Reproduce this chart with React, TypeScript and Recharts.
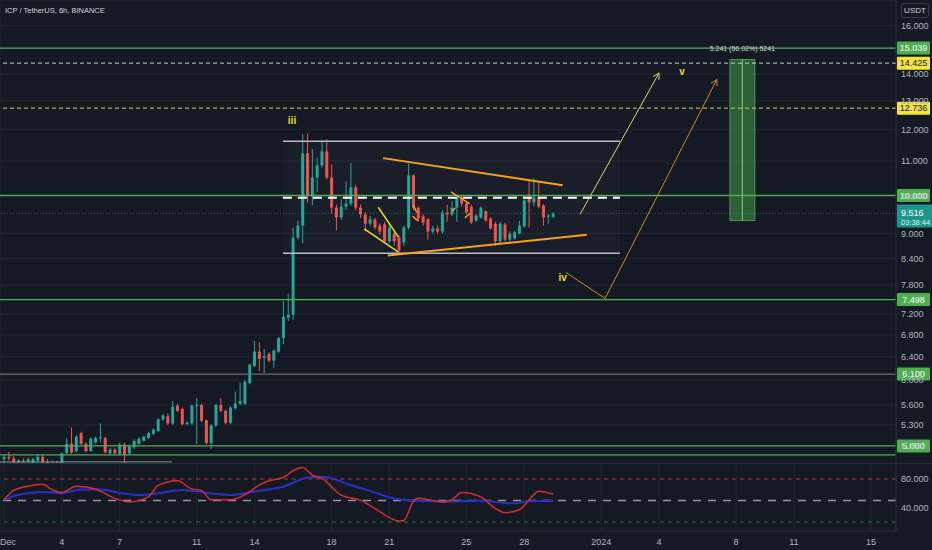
import React from "react";
import {
  Bar,
  CartesianGrid,
  ComposedChart,
  Line,
  ReferenceArea,
  ReferenceDot,
  ReferenceLine,
  XAxis,
  YAxis,
} from "recharts";

const BG = "#151924";
const GRID = "#21252f";
const AXIS_TEXT = "#b2b5be";
const UP = "#26a69a";
const DOWN = "#ef5350";
const LEVEL = "#4caf50";
const FONT = "'Liberation Sans', Arial, sans-serif";

// ICP/USDT 6h candles, index 0 = Dec 1 00:00
const opens = [
  4.82, 4.85, 4.83, 4.78, 4.8, 4.79, 4.77, 4.8, 4.85, 4.78, 4.75, 4.77, 4.76, 4.9, 5.03, 4.93, 5.18, 5.03, 4.93, 5.05,
  5.11, 5.11, 4.9, 4.95, 4.89, 5.02, 4.9, 4.98, 5.03, 5.07, 5.11, 5.17, 5.21, 5.38, 5.43, 5.32, 5.59, 5.54, 5.31, 5.32,
  5.59, 5.6, 5.37, 5.04, 5.29, 5.6, 5.51, 5.33, 5.55, 5.62, 5.62, 5.95, 6.24, 6.49, 6.38, 6.45, 6.33, 6.49, 6.74, 7.13,
  7.19, 8.9, 9.2, 11.24, 9.98, 10.51, 10.87, 11.3, 10.51, 9.67, 9.41, 9.7, 9.78, 10.23, 9.67, 9.49, 9.25, 9.36, 9.2, 9.23,
  8.81, 9.0, 8.9, 8.78, 9.15, 10.57, 9.67, 9.44, 9.36, 9.05, 9.13, 9.05, 9.54, 9.49, 9.67, 9.95, 9.78, 9.7, 9.33, 9.41,
  9.57, 9.38, 9.25, 8.81, 9.23, 8.85, 8.88, 9.0, 9.18, 9.95, 9.81, 9.95, 9.73, 9.44, 9.43,
];
const highs = [
  4.88, 4.92, 4.86, 4.82, 4.83, 4.84, 4.84, 4.88, 4.88, 4.82, 4.8, 4.8, 4.91, 5.11, 5.26, 5.15, 5.2, 5.05, 5.12, 5.13,
  5.32, 5.13, 4.97, 4.97, 5.04, 5.04, 5.02, 5.09, 5.12, 5.14, 5.2, 5.25, 5.4, 5.46, 5.47, 5.66, 5.62, 5.56, 5.36, 5.61,
  5.71, 5.62, 5.38, 5.31, 5.62, 5.71, 5.53, 5.58, 5.81, 5.95, 6.0, 6.28, 6.69, 6.66, 6.54, 6.48, 6.53, 6.76, 7.47, 7.62,
  9.15, 9.33, 11.85, 11.88, 11.37, 11.1, 11.65, 11.68, 10.9, 9.75, 9.9, 10.4, 10.93, 10.3, 9.75, 9.55, 9.45, 9.4, 9.25, 9.3,
  9.2, 9.05, 8.95, 9.2, 10.93, 10.6, 9.7, 9.5, 9.4, 9.2, 9.2, 9.6, 9.75, 9.85, 9.97, 10.0, 9.82, 9.75, 9.5, 9.7,
  9.6, 9.42, 9.3, 9.3, 9.28, 9.05, 9.08, 9.33, 9.9, 10.4, 10.49, 10.37, 9.76, 9.5, 9.55,
];
const lows = [
  4.76, 4.8, 4.75, 4.74, 4.76, 4.77, 4.75, 4.78, 4.76, 4.73, 4.72, 4.74, 4.74, 4.89, 4.89, 4.91, 5.01, 4.91, 4.92, 5.03,
  5.05, 4.9, 4.88, 4.88, 4.87, 4.73, 4.88, 4.96, 5.02, 5.06, 5.1, 5.15, 5.2, 5.36, 5.3, 5.3, 5.49, 5.29, 5.29, 5.3,
  5.03, 5.34, 5.02, 4.96, 5.27, 5.49, 5.31, 5.31, 5.53, 5.6, 5.6, 5.93, 6.22, 6.15, 6.12, 6.3, 6.21, 6.47, 6.63, 7.07,
  7.09, 8.85, 8.76, 9.81, 9.73, 10.1, 10.8, 10.45, 9.5, 9.08, 9.35, 9.6, 9.72, 9.6, 9.4, 9.05, 9.2, 9.1, 8.98, 8.78,
  8.76, 8.7, 8.54, 8.7, 9.1, 9.6, 9.3, 9.2, 8.85, 9.0, 9.0, 9.0, 9.3, 9.45, 9.3, 9.7, 9.5, 9.25, 9.3, 9.38,
  9.3, 9.1, 8.7, 8.76, 8.8, 8.8, 8.85, 8.98, 9.15, 9.15, 9.7, 9.65, 9.2, 9.25, 9.4,
];
const closes = [
  4.85, 4.83, 4.78, 4.8, 4.79, 4.82, 4.82, 4.85, 4.78, 4.75, 4.77, 4.76, 4.9, 5.03, 4.91, 5.13, 5.03, 4.93, 5.1, 5.11,
  5.12, 4.91, 4.95, 4.9, 5.02, 4.88, 5.0, 5.07, 5.1, 5.13, 5.18, 5.23, 5.38, 5.44, 5.32, 5.57, 5.51, 5.31, 5.33, 5.59,
  5.6, 5.36, 5.04, 5.29, 5.6, 5.51, 5.33, 5.56, 5.62, 5.66, 5.97, 6.26, 6.49, 6.36, 6.41, 6.33, 6.51, 6.74, 7.15, 7.19,
  8.9, 9.2, 11.24, 9.98, 10.51, 10.87, 11.3, 10.51, 9.67, 9.41, 9.7, 9.78, 10.23, 9.67, 9.49, 9.25, 9.36, 9.15, 9.05, 8.81,
  9.15, 8.81, 8.59, 9.15, 10.57, 9.67, 9.38, 9.28, 9.05, 9.13, 9.05, 9.54, 9.49, 9.67, 9.95, 9.78, 9.54, 9.28, 9.46, 9.67,
  9.33, 9.13, 8.81, 9.25, 8.85, 9.0, 9.03, 9.2, 9.87, 9.81, 9.95, 9.7, 9.41, 9.46, 9.516,
];

// RSI (red) and its moving average (blue), read at these bar indices
const rsiIdx = [0, 2, 5, 8, 10, 12, 15, 19, 23, 26, 30, 32, 36, 39, 41, 43, 47, 50, 53, 55, 58, 60, 62, 64, 66, 70, 74, 77, 82, 83, 85, 86, 89, 91, 93, 95, 99, 102, 104, 107, 109, 111, 114];
const rsiVals = [51, 64, 70, 72.5, 65, 61, 70, 66, 53, 48, 55, 71, 77.5, 66, 64, 51, 51, 58, 71.5, 77.5, 82, 91.5, 96, 85.5, 81, 57.5, 50.5, 39, 21.5, 22, 49, 53, 50, 48, 51, 61, 55, 39, 33, 37, 50.7, 63, 59];
const maIdx = [0, 3, 8, 12, 16, 20, 24, 28, 32, 37, 42, 47, 53, 58, 63, 66, 72, 77, 82, 87, 91, 99, 105, 110, 114];
const maVals = [51, 58, 62, 60.5, 65.5, 65.5, 60.5, 57.7, 60, 64.7, 60.5, 57.7, 63.7, 69.3, 81.8, 83, 71.6, 61, 51.7, 49.3, 48.3, 49.5, 46, 49.3, 49.3];

const dayTicks = [0, 12, 24, 40, 52, 68, 80, 96, 108, 124, 136, 152, 164, 180];
const dayLabels = ["Dec", "4", "7", "11", "14", "18", "21", "25", "28", "2024", "4", "8", "11", "15"];
const priceTicks = [5, 5.3, 5.6, 6, 6.4, 6.8, 7.2, 7.8, 8.4, 9, 10, 11, 12, 13, 14, 16];

// drawings (bar index, price)
const triangleTop = [{ x: 78.7, y: 11.09 }, { x: 116, y: 10.29 }];
const triangleBottom = [{ x: 79.7, y: 8.47 }, { x: 121, y: 8.97 }];
const waveA = [{ x: 74.8, y: 9.12 }, { x: 81.9, y: 8.55 }];
const waveB = [{ x: 77.7, y: 9.68 }, { x: 81.9, y: 8.91 }];
const orangeTicks = [
  [{ x: 85, y: 9.73 }, { x: 85.7, y: 9.54 }],
  [{ x: 84.8, y: 9.45 }, { x: 85.9, y: 9.33 }],
  [{ x: 92.8, y: 10.1 }, { x: 96.7, y: 9.77 }],
  [{ x: 93.1, y: 9.58 }, { x: 93.7, y: 9.66 }],
  [{ x: 95.7, y: 9.4 }, { x: 96.7, y: 9.52 }],
];
const projUp = [{ x: 119.6, y: 9.49 }, { x: 136, y: 14.04 }];
const projDown = [{ x: 116.7, y: 8.08 }, { x: 124.8, y: 7.52 }];
const projDownUp = [{ x: 124.8, y: 7.52 }, { x: 148, y: 13.79 }];
const rangeBox = { x1: 57.9, x2: 127.9, low: 8.52, high: 11.62, mid: 9.94 };
const target = { x1: 150.7, x2: 155.9, mid: 153.3, low: 9.33, high: 14.571 };

const X_DOMAIN = [-0.83, 185.2];
const PRICE_DOMAIN = [4.756, 17.18];

const candles = opens.map((o, i) => ({
  i,
  range: [lows[i], highs[i]],
  o,
  h: highs[i],
  l: lows[i],
  c: closes[i],
}));

const rsiMap = new Map<number, { i: number; rsi?: number; ma?: number }>();
rsiIdx.forEach((i, k) => rsiMap.set(i, { ...(rsiMap.get(i) || { i }), rsi: rsiVals[k] }));
maIdx.forEach((i, k) => rsiMap.set(i, { ...(rsiMap.get(i) || { i }), ma: maVals[k] }));
const rsiRows = [...rsiMap.values()].sort((a, b) => a.i - b.i);

function Candle(props: any) {
  const { x, y, width, height, payload } = props;
  if (!payload || x == null) return null;
  const { o, h, l, c } = payload;
  const top = Math.min(y, y + height);
  const bottom = Math.max(y, y + height);
  const span = Math.log(h) - Math.log(l);
  const py = (p: number) => top + ((bottom - top) * (Math.log(h) - Math.log(p))) / span;
  const color = c >= o ? UP : DOWN;
  const cx = x + width / 2;
  const bt = py(Math.max(o, c));
  const bb = py(Math.min(o, c));
  return (
    <g>
      <line x1={cx} x2={cx} y1={top} y2={bottom} stroke={color} strokeWidth={1} />
      <rect x={x} y={bt} width={width} height={Math.max(1, bb - bt)} fill={color} />
    </g>
  );
}

function tag(text: string, bg: string, fg: string) {
  return (props: any) => {
    const vb = props.viewBox;
    const x = vb.x + vb.width + 1;
    return (
      <g>
        <rect x={x} y={vb.y - 6.5} width={33} height={13} fill={bg} rx={1} />
        <text x={x + 16.5} y={vb.y + 3.3} textAnchor="middle" fontSize={9} fill={fg} fontFamily={FONT}>
          {text}
        </text>
      </g>
    );
  };
}

function lastPriceTag(props: any) {
  const vb = props.viewBox;
  const x = vb.x + vb.width + 1;
  return (
    <g>
      <rect x={x} y={vb.y - 9} width={35} height={23} fill="#1f968b" rx={1} />
      <text x={x + 4} y={vb.y + 2.5} fontSize={9} fill="#ffffff" fontFamily={FONT}>9.516</text>
      <text x={x + 4} y={vb.y + 11.5} fontSize={7.5} fill="#d8f3ef" fontFamily={FONT}>03:38:44</text>
    </g>
  );
}

function arrow(color: string) {
  return (p: any) => {
    const { x1, y1, x2, y2 } = p;
    const ang = Math.atan2(y2 - y1, x2 - x1);
    const a = 7;
    const l1x = x2 - a * Math.cos(ang - 0.5);
    const l1y = y2 - a * Math.sin(ang - 0.5);
    const l2x = x2 - a * Math.cos(ang + 0.5);
    const l2y = y2 - a * Math.sin(ang + 0.5);
    return (
      <g>
        <line x1={x1} y1={y1} x2={x2} y2={y2} stroke={color} strokeWidth={1} />
        <polyline points={`${l1x},${l1y} ${x2},${y2} ${l2x},${l2y}`} fill="none" stroke={color} strokeWidth={1} />
      </g>
    );
  };
}

// first date label hugs the left edge instead of being cut off
function DayTick(props: any) {
  const { x, y, payload } = props;
  const k = dayTicks.indexOf(payload.value);
  const first = k === 0;
  return (
    <text
      x={first ? 0 : x}
      y={y + 9}
      textAnchor={first ? "start" : "middle"}
      fill={AXIS_TEXT}
      fontSize={9}
      fontFamily={FONT}
    >
      {dayLabels[k] ?? ""}
    </text>
  );
}

const tickStyle = { fill: AXIS_TEXT, fontSize: 9, fontFamily: FONT };
const waveLabel = (v: string) => ({ value: v, fill: "#e4dc2c", fontSize: 10, fontWeight: 700, fontFamily: FONT });

export default function App() {
  return (
    <div style={{ position: "relative", width: 932, height: 550, background: BG, overflow: "hidden" }}>
      <style>{`body{margin:0;background:${BG};}`}</style>
      <ComposedChart width={932} height={464} data={candles} margin={{ top: 0, right: 0, left: 0, bottom: 0 }}>
        <CartesianGrid stroke={GRID} />
        <XAxis
          type="number"
          dataKey="i"
          domain={X_DOMAIN}
          allowDataOverflow
          ticks={dayTicks}
          height={0}
          tick={false}
          tickLine={false}
          axisLine={false}
        />
        <YAxis
          orientation="right"
          scale="log"
          domain={PRICE_DOMAIN}
          allowDataOverflow
          ticks={priceTicks}
          width={36}
          tickFormatter={(v: number) => v.toFixed(3)}
          tick={tickStyle}
          tickLine={false}
          tickSize={0}
          tickMargin={5}
          axisLine={{ stroke: "#2a2e39" }}
          interval={0}
        />

        <ReferenceArea x1={rangeBox.x1} x2={rangeBox.x2} y1={rangeBox.low} y2={rangeBox.high} fill="#ffffff" fillOpacity={0.025} stroke="none" ifOverflow="visible" />
        <ReferenceLine y={15.039} stroke={LEVEL} strokeWidth={1.3} label={tag("15.039", "#4caf50", "#ffffff")} />
        <ReferenceLine y={14.425} stroke="#c9ccd4" strokeDasharray="4 3" label={tag("14.425", "#f5e43b", "#131722")} />
        <ReferenceLine y={12.736} stroke="#d8d85a" strokeDasharray="4 3" label={tag("12.736", "#f5e43b", "#131722")} />
        <ReferenceLine y={10} stroke={LEVEL} strokeWidth={1.3} label={tag("10.000", "#4caf50", "#ffffff")} />
        <ReferenceLine y={9.516} stroke="#26a69a" strokeOpacity={0.5} strokeDasharray="1 2" label={lastPriceTag} />
        <ReferenceLine y={7.498} stroke={LEVEL} strokeWidth={1.3} label={tag("7.498", "#4caf50", "#ffffff")} />
        <ReferenceLine y={6.1} stroke="#5f746a" strokeWidth={1.3} label={tag("6.100", "#4caf50", "#ffffff")} />
        <ReferenceLine y={5.0} stroke={LEVEL} strokeWidth={1.3} label={tag("5.000", "#4caf50", "#ffffff")} />
        <ReferenceLine y={4.877} stroke={LEVEL} strokeWidth={1.3} />
        <ReferenceLine segment={[{ x: -0.83, y: 4.783 }, { x: 34.9, y: 4.783 }]} stroke="#7fa37f" ifOverflow="visible" />

        <ReferenceLine segment={[{ x: rangeBox.x1, y: rangeBox.high }, { x: rangeBox.x2, y: rangeBox.high }]} stroke="#b8bbc4" strokeWidth={1.5} ifOverflow="visible" />
        <ReferenceLine segment={[{ x: rangeBox.x1, y: rangeBox.low }, { x: rangeBox.x2, y: rangeBox.low }]} stroke="#b8bbc4" strokeWidth={1.5} ifOverflow="visible" />
        <ReferenceLine segment={[{ x: rangeBox.x1, y: rangeBox.mid }, { x: rangeBox.x2, y: rangeBox.mid }]} stroke="#ffffff" strokeWidth={2} strokeDasharray="9 6" ifOverflow="visible" />

        <ReferenceArea x1={target.x1} x2={target.x2} y1={target.low} y2={target.high} fill="#3f8f46" fillOpacity={0.6} stroke="#5cb860" strokeOpacity={0.7} ifOverflow="visible" label={{ value: "5.241 (56.02%) 5241", position: "top", offset: 9, fill: "#d1d4dc", fontSize: 7, fontFamily: FONT }} />
        <ReferenceLine segment={[{ x: target.mid, y: target.low }, { x: target.mid, y: target.high }]} stroke="#7fcf83" ifOverflow="visible" />

        <Bar dataKey="range" barSize={3} shape={(p: any) => <Candle {...p} />} isAnimationActive={false} />

        <ReferenceLine segment={triangleTop} stroke="#f7a21b" strokeWidth={2} ifOverflow="visible" />
        <ReferenceLine segment={triangleBottom} stroke="#f7a21b" strokeWidth={2} ifOverflow="visible" />
        <ReferenceLine segment={waveA} stroke="#e6df2e" strokeWidth={1.5} ifOverflow="visible" />
        <ReferenceLine segment={waveB} stroke="#e6df2e" strokeWidth={1.5} ifOverflow="visible" />
        {orangeTicks.map((s, k) => (
          <ReferenceLine key={k} segment={s} stroke="#f7a21b" strokeWidth={1.5} ifOverflow="visible" />
        ))}
        <ReferenceLine segment={projUp} stroke="#d3d76a" ifOverflow="visible" shape={arrow("#d3d76a")} />
        <ReferenceLine segment={projDown} stroke="#c98a2c" ifOverflow="visible" />
        <ReferenceLine segment={projDownUp} stroke="#c98a2c" ifOverflow="visible" shape={arrow("#c98a2c")} />

        <ReferenceDot x={59.8} y={12.32} r={0} fill="none" stroke="none" ifOverflow="visible" label={waveLabel("iii")} />
        <ReferenceDot x={116} y={7.97} r={0} fill="none" stroke="none" ifOverflow="visible" label={waveLabel("iv")} />
        <ReferenceDot x={140.8} y={14.11} r={0} fill="none" stroke="none" ifOverflow="visible" label={waveLabel("v")} />
      </ComposedChart>

      <div style={{ position: "absolute", left: 0, top: 463, width: 932, height: 1, background: "#2a2e39" }} />

      <ComposedChart width={932} height={86} data={rsiRows} margin={{ top: 0, right: 0, left: 0, bottom: 0 }}>
        <CartesianGrid stroke={GRID} horizontal={false} />
        <XAxis
          type="number"
          dataKey="i"
          domain={X_DOMAIN}
          allowDataOverflow
          ticks={dayTicks}
          interval={0}
          height={19}
          tick={(p: any) => <DayTick {...p} />}
          tickLine={false}
          tickSize={0}
          tickMargin={5}
          axisLine={{ stroke: "#2a2e39" }}
        />
        <YAxis
          orientation="right"
          domain={[7.45, 100.9]}
          allowDataOverflow
          ticks={[40, 80]}
          width={36}
          tickFormatter={(v: number) => v.toFixed(3)}
          tick={tickStyle}
          tickLine={false}
          tickSize={0}
          tickMargin={5}
          axisLine={{ stroke: "#2a2e39" }}
        />
        <ReferenceLine y={80} stroke="#b23a3a" strokeDasharray="4 4" />
        <ReferenceLine y={50} stroke="#9598a1" strokeWidth={1.5} strokeDasharray="8 7" />
        <ReferenceLine y={20} stroke="#1e7a35" strokeDasharray="4 4" />
        <Line dataKey="ma" type="monotone" stroke="#2b2fc8" strokeWidth={2} dot={false} connectNulls isAnimationActive={false} />
        <Line dataKey="rsi" type="monotone" stroke="#d32f2f" strokeWidth={1.5} dot={false} connectNulls isAnimationActive={false} />
      </ComposedChart>

      <div style={{ position: "absolute", left: 5, top: 6, fontSize: 7.5, color: "#d1d4dc", fontFamily: FONT }}>
        ICP / TetherUS, 6h, BINANCE
      </div>
      <div
        style={{
          position: "absolute",
          left: 901,
          top: 3,
          width: 28,
          height: 15,
          border: "1px solid #363a45",
          borderRadius: 3,
          boxSizing: "border-box",
          fontSize: 8,
          lineHeight: "13px",
          textAlign: "center",
          color: "#d1d4dc",
          fontFamily: FONT,
        }}
      >
        USDT
      </div>
    </div>
  );
}
